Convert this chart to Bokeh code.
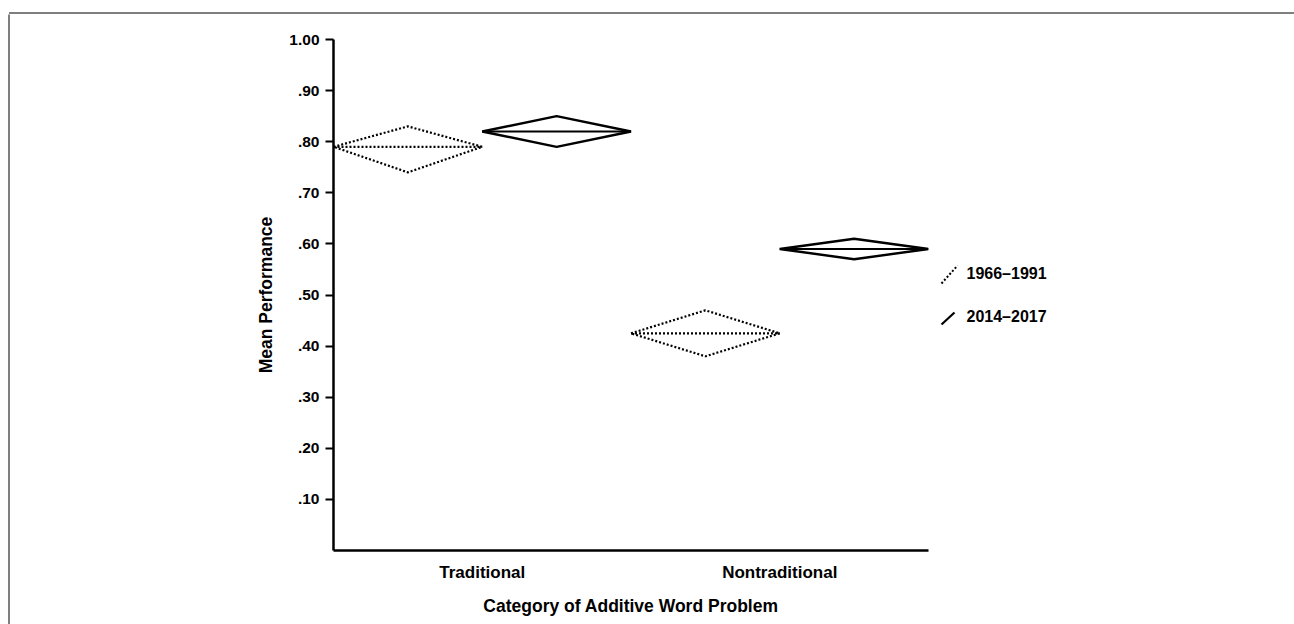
from bokeh.plotting import figure
from bokeh.layouts import row, column
from bokeh.models import FixedTicker, Range1d, ColumnDataSource
from bokeh.core.properties import value
from bokeh.embed import file_html
from bokeh.resources import INLINE

# Mean performance (with interval bounds) by problem category and period
categories = ["Traditional", "Nontraditional"]
periods = ["1966\u20131991", "2014\u20132017"]
mean_1966 = [0.79, 0.425]
upper_1966 = [0.83, 0.47]
lower_1966 = [0.74, 0.38]
mean_2014 = [0.82, 0.59]
upper_2014 = [0.85, 0.61]
lower_2014 = [0.79, 0.57]

y_ticks = [0.1, 0.2, 0.3, 0.4, 0.5, 0.6, 0.7, 0.8, 0.9, 1.0]
y_tick_labels = [".10", ".20", ".30", ".40", ".50", ".60", ".70", ".80", ".90", "1.00"]

FONT = "Liberation Sans"
BORDER = "#555555"

# page geometry (pixels)
W, H = 1294, 624
TOP_STRIP = 14      # strip carrying the top rule of the panel border
LEFT_STRIP = 10     # strip carrying the left rule of the panel border
MAIN_W = 925        # main chart canvas width
LEG_W = W - LEFT_STRIP - MAIN_W
BODY_H = H - TOP_STRIP


def blank(width, height):
    f = figure(width=width, height=height, output_backend="svg",
               toolbar_location=None, x_axis_type=None, y_axis_type=None,
               x_range=Range1d(0, width), y_range=Range1d(height, 0),
               min_border=0, frame_align=False)
    f.outline_line_color = None
    f.grid.visible = False
    f.background_fill_color = "white"
    f.border_fill_color = "white"
    return f


# panel border (top and left rules)
top = blank(W, TOP_STRIP)
top.segment(x0=[8.5], y0=[12.5], x1=[W + 5], y1=[12.5],
            line_color=BORDER, line_width=1.5)
left = blank(LEFT_STRIP, BODY_H)
left.segment(x0=[8.5], y0=[-2], x1=[8.5], y1=[BODY_H + 5],
             line_color=BORDER, line_width=1.5)

# main chart
X_END = 2 * len(categories)
p = figure(width=MAIN_W, height=BODY_H, output_backend="svg",
           toolbar_location=None, frame_align=False,
           x_range=Range1d(0, X_END), y_range=Range1d(0, 1.0),
           min_border_left=333 - LEFT_STRIP, min_border_right=7,
           min_border_top=39 - TOP_STRIP, min_border_bottom=H - 550)
p.outline_line_color = None
p.grid.visible = False
p.background_fill_color = "white"
p.border_fill_color = "white"


def diamonds(means, uppers, lowers, offset):
    xs, ys, mx, my = [], [], [], []
    for i, (m, u, lo) in enumerate(zip(means, uppers, lowers)):
        x_left = 2 * i + offset
        x_mid = x_left + 0.5
        x_right = x_left + 1.0
        xs.append([x_left, x_mid, x_right, x_mid])
        ys.append([m, u, m, lo])
        mx.append([x_left, x_right])
        my.append([m, m])
    return ColumnDataSource(dict(xs=xs, ys=ys)), ColumnDataSource(dict(xs=mx, ys=my))


d1, m1 = diamonds(mean_1966, upper_1966, lower_1966, 0)
d2, m2 = diamonds(mean_2014, upper_2014, lower_2014, 1)

p.patches("xs", "ys", source=d1, fill_color=None, line_color="black",
          line_width=2.2, line_dash="2 2")
p.multi_line("xs", "ys", source=m1, line_color="black", line_width=2.2,
             line_dash="2 2")
p.patches("xs", "ys", source=d2, fill_color=None, line_color="black",
          line_width=2.4)
p.multi_line("xs", "ys", source=m2, line_color="black", line_width=2)

for ax in (p.xaxis[0], p.yaxis[0]):
    ax.axis_line_width = 2.5
    ax.axis_line_color = "black"
    ax.major_tick_line_color = "black"
    ax.major_tick_line_width = 2
    ax.minor_tick_line_color = None
    ax.major_label_text_font = FONT
    ax.major_label_text_font_style = "bold"
    ax.major_label_text_color = "black"
    ax.axis_label_text_font = FONT
    ax.axis_label_text_font_style = "bold"
    ax.axis_label_text_color = "black"

p.yaxis.ticker = FixedTicker(ticks=y_ticks)
p.yaxis.major_label_overrides = dict(zip(y_ticks, y_tick_labels))
p.yaxis.major_tick_out = 8
p.yaxis.major_tick_in = 0
p.yaxis.major_label_standoff = 6
p.yaxis.major_label_text_font_size = "15.5px"
p.yaxis.axis_label = "Mean Performance"
p.yaxis.axis_label_text_font_size = "17.5px"
p.yaxis.axis_label_standoff = 10

x_ticks = [2 * i + 1 for i in range(len(categories))]
p.xaxis.ticker = FixedTicker(ticks=x_ticks)
p.xaxis.major_label_overrides = dict(zip(x_ticks, categories))
p.xaxis.major_tick_out = 0
p.xaxis.major_tick_in = 0
p.xaxis.major_label_standoff = 12
p.xaxis.major_label_text_font_size = "17px"
p.xaxis.axis_label = "Category of Additive Word Problem"
p.xaxis.axis_label_text_font_size = "17.5px"
p.xaxis.axis_label_standoff = 11

# legend panel with slanted line keys (pixel coordinates of this panel)
leg = blank(LEG_W, BODY_H)
ox, oy = LEFT_STRIP + MAIN_W, TOP_STRIP
leg.segment(x0=[941 - ox], y0=[283 - oy], x1=[957 - ox], y1=[265 - oy],
            line_color="black", line_width=2, line_dash="2 2")
leg.segment(x0=[941 - ox], y0=[324 - oy], x1=[954 - ox], y1=[312 - oy],
            line_color="black", line_width=2.2)
leg.text(x=[966 - ox, 966 - ox], y=[273 - oy, 316 - oy], text=periods,
         text_font=value(FONT), text_font_style="bold", text_font_size="16px",
         text_baseline="middle", text_color="black")

layout = column(top, row(left, p, leg))
open("out.html", "w").write(file_html(layout, INLINE))
